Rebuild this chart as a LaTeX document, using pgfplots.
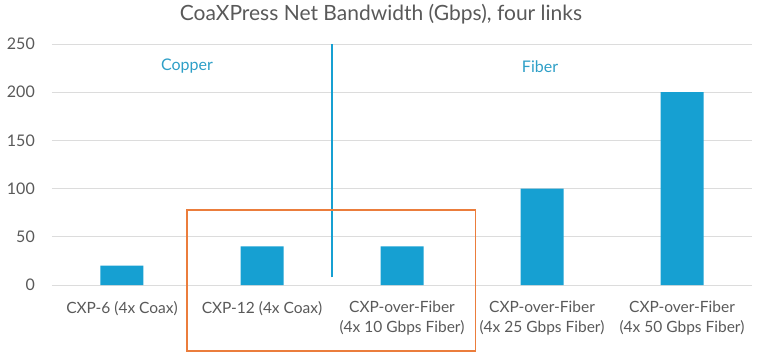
\documentclass[border=0pt]{standalone}
\usepackage{fontspec}
\setmainfont{Lato}
\usepackage{pgfplots}
\pgfplotsset{compat=1.18}
\definecolor{barblue}{HTML}{16A0D2}
\definecolor{lblblue}{HTML}{2E9FC7}
\definecolor{txtgray}{HTML}{595959}
\definecolor{gridgray}{HTML}{DCDCDC}
\definecolor{boxorange}{HTML}{EB7D3C}
\begin{document}
\begin{tikzpicture}
\begin{axis}[
  scale only axis, width=700pt, height=241pt,
  xmin=-0.5, xmax=4.5, ymin=0, ymax=250,
  ytick={0,50,...,250},
  xtick={0,1,2,3,4},
  xticklabels={{CXP-6 (4x Coax)},{CXP-12 (4x Coax)},{CXP-over-Fiber\\(4x 10 Gbps Fiber)},{CXP-over-Fiber\\(4x 25 Gbps Fiber)},{CXP-over-Fiber\\(4x 50 Gbps Fiber)}},
  ymajorgrids, grid style={gridgray, line width=1pt},
  axis line style={draw=none}, major tick length=0pt,
  clip=false,
  /pgf/number format/assume math mode=true,
  yticklabel style={font=\fontsize{16}{19}\selectfont, text=txtgray, anchor=east, inner sep=0pt, xshift=-17pt},
  xticklabel style={font=\fontsize{15.5}{20}\selectfont, text=txtgray, anchor=north, align=center, inner sep=0pt, yshift=-16pt},
  title={CoaXPress Net Bandwidth (Gbps), four links},
  every axis title/.style={font=\fontsize{21}{25}\selectfont, text=txtgray, at={(0.47,1)}, anchor=base, yshift=24pt},
]
\addplot[ybar, bar width=43pt, fill=barblue, draw=none] coordinates {(0,20) (1,40) (2,40) (3,100) (4,200)};
\draw[barblue, line width=1.5pt] (axis cs:1.5,8) -- (axis cs:1.5,250);
\node[text=lblblue, font=\fontsize{16}{19}\selectfont] at (axis cs:0.464,227) {Copper};
\node[text=lblblue, font=\fontsize{16}{19}\selectfont] at (axis cs:2.986,227) {Fiber};
\draw[boxorange, line width=1.5pt] (axis cs:0.464,77.8) rectangle (axis cs:2.525,-68.5);
\end{axis}
\pgfresetboundingbox
\path[use as bounding box] (-52pt,-72pt) rectangle (706pt,285pt);
\end{tikzpicture}
\end{document}
